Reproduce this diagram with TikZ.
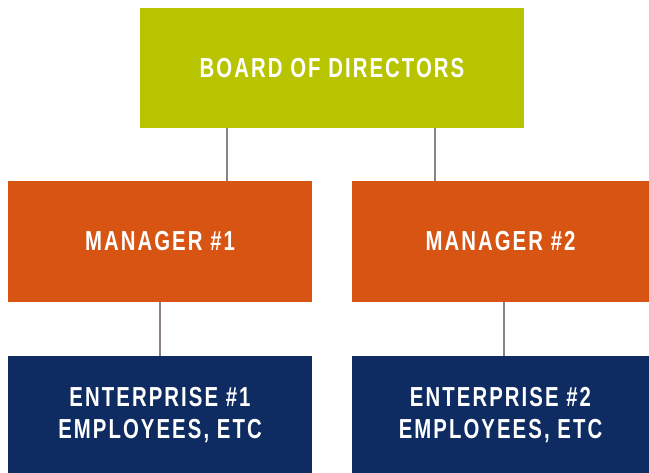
\documentclass[tikz,border=0pt]{standalone}
\usepackage{fontspec}
\newfontfamily\labfont[FakeStretch=0.74,LetterSpace=7.5]{Liberation Sans}
\definecolor{boardgreen}{HTML}{B8C400}
\definecolor{mgrorange}{HTML}{D75413}
\definecolor{entnavy}{HTML}{0F2C62}
\definecolor{linkgray}{HTML}{8C8282}
\begin{document}
\begin{tikzpicture}[x=1pt,y=-1pt,
  box/.style={rectangle,inner sep=0pt,outer sep=0pt,text=white,align=center,
    font=\labfont\bfseries\fontsize{27.5}{32}\selectfont},
  link/.style={draw=linkgray,line width=2pt}]
\useasboundingbox (0,0) rectangle (649,473);
\node[box,fill=boardgreen,minimum width=384pt,minimum height=120pt] (board) at (332,67.75) {BOARD OF DIRECTORS};
\node[box,fill=mgrorange,minimum width=304pt,minimum height=121pt] (m1) at (160,241.25) {MANAGER \#1};
\node[box,fill=mgrorange,minimum width=297pt,minimum height=121pt] (m2) at (500.5,241.25) {MANAGER \#2};
\node[box,fill=entnavy,minimum width=304pt,minimum height=118pt] (e1) at (160,415.5) {ENTERPRISE \#1\\EMPLOYEES, ETC};
\node[box,fill=entnavy,minimum width=297pt,minimum height=118pt] (e2) at (500.5,415.5) {ENTERPRISE \#2\\EMPLOYEES, ETC};
\draw[link] (board.south -| 227,0) -- (m1.north -| 227,0);
\draw[link] (board.south -| 435,0) -- (m2.north -| 435,0);
\draw[link] (m1.south -| 160,0) -- (e1.north -| 160,0);
\draw[link] (m2.south -| 504,0) -- (e2.north -| 504,0);
\end{tikzpicture}
\end{document}
